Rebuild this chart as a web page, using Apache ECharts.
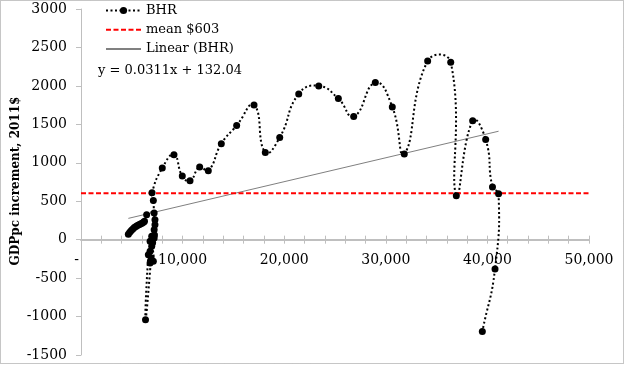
<!DOCTYPE html>
<html>
<head>
<meta charset="utf-8">
<script src="https://cdn.jsdelivr.net/npm/echarts@6/dist/echarts.min.js"></script>
<style>
html,body{margin:0;padding:0;background:#fff;}
#chart{width:625px;height:365px;}
</style>
</head>
<body>
<div id="chart"></div>
<script>
// GDP per capita (2011$) on x, GDPpc increment on y, in time order
const bhrX = [4660,4800,4950,5100,5250,5400,5550,5700,5850,6000,6150,6250,6460,7200,7280,7280,7200,7200,6960,6800,6960,6800,6630,6350,6900,6800,7120,7050,7230,7120,6990,8000,9150,9970,10730,11680,12530,13810,15320,17030,18140,19560,21430,23400,25330,26840,28970,30640,31820,34120,36390,36940,38550,39830,40500,41100,40750,39500];
const bhrY = [70,95,120,140,158,172,185,195,205,215,228,240,325,347,260,195,130,22,43,-22,-87,-152,-195,-1040,-238,-303,-281,-40,60,510,610,931,1104,827,766,944,896,1247,1484,1753,1134,1329,1896,2000,1835,1601,2043,1727,1113,2325,2308,571,1545,1303,684,597,-381,-1195];
const meanValue = 603;
const meanRange = [0, 50000];
const trendSlope = 0.0311;
const trendIntercept = 132.04;
const seriesNames = ['BHR', 'mean $603', 'Linear (BHR)'];
const yTitle = 'GDPpc increment, 2011$';
const equationText = 'y = 0.0311x + 132.04';
const yMin = -1500, yMax = 3000, yStep = 500;
const xMinAxis = 0, xMaxAxis = 50000, xStep = 2000, xLabelStep = 10000;

const bhrData = bhrX.map((x, i) => [x, bhrY[i]]);
const meanData = meanRange.map(x => [x, meanValue]);
const xMin = Math.min(...bhrX), xMax = Math.max(...bhrX);
const trendData = [xMin, xMax].map(x => [x, trendSlope * x + trendIntercept]);

const FONT = 'DejaVu Serif';
const W = 625, H = 365;
const GRID = {left: 81, right: 36, top: 9, bottom: 10};
const gridH = H - GRID.top - GRID.bottom;
const zeroOffset = -(0 - yMin) / (yMax - yMin) * gridH;
const BHR_LINE = {color: '#000', width: 2, type: [2, 2.5]};
const SMOOTH = 0.5;

const chart = echarts.init(document.getElementById('chart'), null, {renderer: 'canvas'});
const xFmt = v => v === 0 ? '-  ' : (v % xLabelStep === 0 ? v.toLocaleString('en-US') : '');
const transparent = {color: 'rgba(0,0,0,0)', borderColor: 'rgba(0,0,0,0)', borderWidth: 0};

// Smoothed (spreadsheet-style) segment between point i and i+1, drawn through the axis scales
function renderSmoothSegment(params, api) {
  const i = params.dataIndex, n = bhrData.length;
  if (i >= n - 1) return null;
  const p0 = api.coord(bhrData[Math.max(i - 1, 0)]);
  const p1 = api.coord(bhrData[i]);
  const p2 = api.coord(bhrData[i + 1]);
  const p3 = api.coord(bhrData[Math.min(i + 2, n - 1)]);
  const d = (a, b) => Math.hypot(b[0] - a[0], b[1] - a[1]);
  const d01 = d(p0, p1), d12 = d(p1, p2), d23 = d(p2, p3);
  const r1 = (d01 + d12) > 0 ? d12 / (d01 + d12) : 0;
  const r2 = (d12 + d23) > 0 ? d12 / (d12 + d23) : 0;
  const c1 = [p1[0] + (p2[0] - p0[0]) * SMOOTH * r1, p1[1] + (p2[1] - p0[1]) * SMOOTH * r1];
  const c2 = [p2[0] - (p3[0] - p1[0]) * SMOOTH * r2, p2[1] - (p3[1] - p1[1]) * SMOOTH * r2];
  return {
    type: 'bezierCurve',
    shape: {x1: p1[0], y1: p1[1], x2: p2[0], y2: p2[1], cpx1: c1[0], cpy1: c1[1], cpx2: c2[0], cpy2: c2[1]},
    style: {fill: null, stroke: BHR_LINE.color, lineWidth: BHR_LINE.width, lineDash: BHR_LINE.type}
  };
}

chart.setOption({
  animation: false,
  backgroundColor: '#fff',
  grid: Object.assign({containLabel: false, outerBoundsMode: 'none'}, GRID),
  legend: {
    orient: 'vertical', left: 100, top: -1,
    itemWidth: 35, itemHeight: 9, itemGap: 6.3,
    data: [
      {name: seriesNames[0], lineStyle: {color: BHR_LINE.color, width: BHR_LINE.width, type: BHR_LINE.type, opacity: 1}},
      {name: seriesNames[1], itemStyle: transparent},
      {name: seriesNames[2], itemStyle: transparent}
    ],
    textStyle: {fontFamily: FONT, fontSize: 13, color: '#000'}
  },
  xAxis: [{
    type: 'value', min: xMinAxis, max: xMaxAxis, interval: xStep, position: 'bottom', offset: zeroOffset,
    axisLine: {onZero: false, lineStyle: {color: '#bfbfbf', width: 2}},
    axisTick: {show: true, length: 4, lineStyle: {color: '#bfbfbf'}},
    axisLabel: {formatter: xFmt, margin: 14, showMinLabel: true, showMaxLabel: true,
      fontFamily: FONT, fontSize: 14, color: '#000'},
    splitLine: {show: false}
  }, {
    type: 'value', min: xMinAxis, max: xMaxAxis, interval: xStep, position: 'bottom', offset: zeroOffset,
    axisLine: {show: false, onZero: false},
    axisTick: {show: true, inside: true, length: 4, lineStyle: {color: '#bfbfbf'}},
    axisLabel: {show: false},
    splitLine: {show: false}
  }],
  yAxis: {
    type: 'value', min: yMin, max: yMax, interval: yStep,
    axisLine: {show: true, onZero: false, lineStyle: {color: '#bfbfbf', width: 1}},
    axisTick: {show: true, length: 5, lineStyle: {color: '#bfbfbf'}},
    axisLabel: {margin: 14, formatter: v => String(v), fontFamily: FONT, fontSize: 14, color: '#000'},
    splitLine: {show: false}
  },
  series: [{
    name: seriesNames[0], type: 'line', data: bhrData,
    symbol: 'circle', symbolSize: 7,
    itemStyle: {color: '#000'},
    lineStyle: {color: BHR_LINE.color, width: BHR_LINE.width, type: BHR_LINE.type, opacity: 0},
    z: 5
  }, {
    name: seriesNames[1], type: 'line', data: meanData, symbol: 'none',
    itemStyle: {color: '#ff0000'},
    lineStyle: {color: '#ff0000', width: 2, type: [5, 2.5]},
    z: 4
  }, {
    name: seriesNames[2], type: 'line', data: trendData, symbol: 'none',
    itemStyle: {color: '#808080'},
    lineStyle: {color: '#808080', width: 1},
    z: 2
  }, {
    name: 'BHR smoothed line', type: 'custom', coordinateSystem: 'cartesian2d',
    xAxisIndex: 0, yAxisIndex: 0,
    data: bhrData, encode: {x: 0, y: 1},
    renderItem: renderSmoothSegment, silent: true, clip: false,
    z: 3
  }],
  graphic: [{
    type: 'text', x: 98, y: 71,
    style: {text: equationText, fontFamily: FONT, fontSize: 13, fill: '#000', textVerticalAlign: 'middle'}
  }, {
    type: 'text', x: 16, y: 181, rotation: Math.PI / 2,
    style: {text: yTitle, fontFamily: FONT, fontSize: 12, fontWeight: 'bold', fill: '#000',
      textAlign: 'center', textVerticalAlign: 'middle'}
  }, {
    type: 'rect', shape: {x: 0.5, y: 0.5, width: 623, height: 363},
    style: {fill: 'none', stroke: '#8c8c8c', lineWidth: 1, lineDash: [1, 1]}, silent: true
  }]
});
</script>
</body>
</html>
